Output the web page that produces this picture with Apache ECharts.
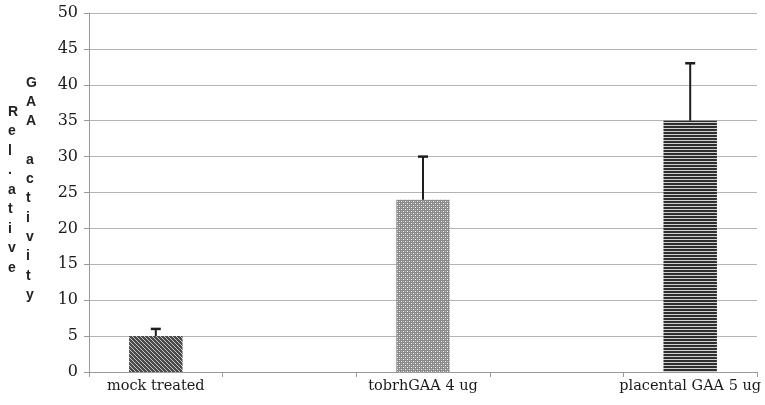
<!DOCTYPE html>
<html><head><meta charset="utf-8">
<script src="https://cdn.jsdelivr.net/npm/echarts@6/dist/echarts.min.js"></script>
<style>html,body{margin:0;padding:0;background:#fff}#c{width:765px;height:405px}</style>
</head><body><div id="c"></div>
<script>
const categories = ['mock treated', '', 'tobrhGAA 4 ug', '', 'placental GAA 5 ug'];
const values = [5, null, 24, null, 35];
const errors = [1, null, 6, null, 8];
const yTicks = [0, 5, 10, 15, 20, 25, 30, 35, 40, 45, 50];
const titleCol1 = ['R', 'e', 'l', '.', 'a', 't', 'i', 'v', 'e'];
const titleCol2 = ['G', 'A', 'A', '', 'a', 'c', 't', 'i', 'v', 'i', 't', 'y'];

function makePattern(kind) {
  const c = document.createElement('canvas');
  const ctx = c.getContext('2d');
  if (kind === 'diag') {
    c.width = 4; c.height = 4;
    ctx.fillStyle = '#4a4a4a'; ctx.fillRect(0, 0, 4, 4);
    ctx.fillStyle = '#c8c8c8';
    for (let i = 0; i < 4; i++) ctx.fillRect(i, i, 1, 1);
  } else if (kind === 'cross') {
    c.width = 4; c.height = 4;
    ctx.fillStyle = '#8a8a8a'; ctx.fillRect(0, 0, 4, 4);
    ctx.fillStyle = '#f4f4f4';
    ctx.fillRect(1, 1, 1, 1); ctx.fillRect(3, 3, 1, 1);
    ctx.fillStyle = '#b8b8b8';
    ctx.fillRect(3, 1, 1, 1); ctx.fillRect(1, 3, 1, 1);
  } else {
    c.width = 4; c.height = 3;
    ctx.fillStyle = '#2e2e2e'; ctx.fillRect(0, 0, 4, 3);
    ctx.fillStyle = '#d0d0d0'; ctx.fillRect(0, 2, 4, 1);
  }
  return { image: c, repeat: 'repeat' };
}
const patterns = [makePattern('diag'), null, makePattern('cross'), null, makePattern('horiz')];

const barData = values.map((v, i) => v == null ? '-' : { value: v, itemStyle: { color: patterns[i] } });
const errData = [];
values.forEach((v, i) => { if (v != null) errData.push([i, v, errors[i]]); });

const chart = echarts.init(document.getElementById('c'), null, { renderer: 'canvas' });
chart.setOption({
  animation: false,
  grid: { left: 89, right: 8, top: 13, bottom: 33, containLabel: false, outerBoundsMode: 'none' },
  xAxis: {
    type: 'category', data: categories,
    axisLine: { lineStyle: { color: '#9a9a9a', width: 1 } },
    axisTick: { show: true, alignWithLabel: false, length: 5, lineStyle: { color: '#9a9a9a' } },
    axisLabel: { interval: 0, color: '#1a1a1a', fontFamily: 'DejaVu Serif', fontSize: 14.5, margin: 7, hideOverlap: false }
  },
  yAxis: {
    type: 'value', min: yTicks[0], max: yTicks[yTicks.length - 1], interval: 5,
    axisLine: { show: true, lineStyle: { color: '#9a9a9a', width: 1 } },
    axisTick: { show: true, length: 5, lineStyle: { color: '#9a9a9a' } },
    splitLine: { lineStyle: { color: '#b4b4b4', width: 1 } },
    axisLabel: { color: '#1a1a1a', fontFamily: 'DejaVu Serif', fontSize: 16, margin: 11 }
  },
  graphic: [
    { type: 'text', left: 8, top: 102, style: { text: titleCol1.join('\n'), font: 'bold 14px "Liberation Sans"', lineHeight: 19.5, fill: '#222', align: 'center', width: 12 } },
    { type: 'text', left: 26, top: 73, style: { text: titleCol2.join('\n'), font: 'bold 14px "Liberation Sans"', lineHeight: 19.3, fill: '#222', align: 'center', width: 12 } }
  ],
  series: [
    { type: 'bar', data: barData, barWidth: '40%', barGap: '-100%' },
    {
      type: 'custom', data: errData, z: 5,
      renderItem: function (params, api) {
        const x = api.value(0), v = api.value(1), e = api.value(2);
        const top = api.coord([x, v + e]);
        const bot = api.coord([x, v]);
        const half = 5;
        return {
          type: 'group', children: [
            { type: 'line', shape: { x1: top[0], y1: top[1], x2: bot[0], y2: bot[1] }, style: { stroke: '#1e1e1e', lineWidth: 2 } },
            { type: 'line', shape: { x1: top[0] - half, y1: top[1], x2: top[0] + half, y2: top[1] }, style: { stroke: '#1e1e1e', lineWidth: 2.5 } }
          ]
        };
      }
    }
  ]
});
</script></body></html>
